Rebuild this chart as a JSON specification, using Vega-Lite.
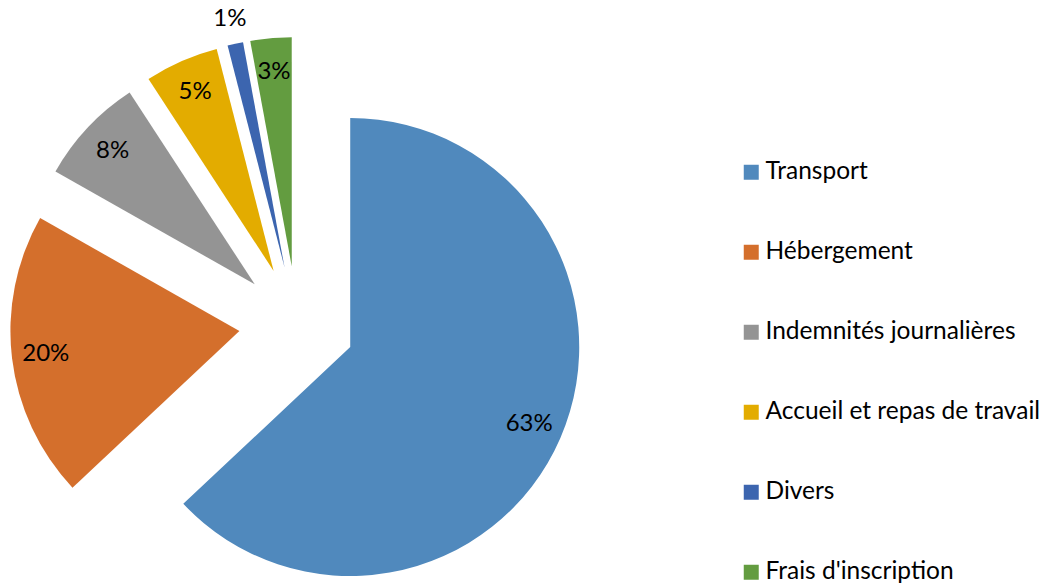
{
  "$schema": "https://vega.github.io/schema/vega-lite/v6.json",
  "width": 1048,
  "height": 584,
  "padding": 0,
  "autosize": "none",
  "background": "white",
  "config": {"view": {"stroke": null}, "font": "Lato"},
  "data": {
    "values": [
      {"cat": "Transport", "idx": 1, "share": 0.630},
      {"cat": "Hébergement", "idx": 2, "share": 0.202},
      {"cat": "Indemnités journalières", "idx": 3, "share": 0.076},
      {"cat": "Accueil et repas de travail", "idx": 4, "share": 0.052},
      {"cat": "Divers", "idx": 5, "share": 0.011},
      {"cat": "Frais d'inscription", "idx": 6, "share": 0.029}
    ]
  },
  "transform": [
    {"joinaggregate": [{"op": "sum", "field": "share", "as": "total"}]},
    {"window": [{"op": "sum", "field": "share", "as": "cum"}], "sort": [{"field": "idx", "order": "ascending"}], "frame": [null, 0]},
    {"calculate": "2*PI*(datum.cum - datum.share/2)/datum.total", "as": "mid"},
    {"calculate": "sin(datum.mid)", "as": "ux"},
    {"calculate": "-cos(datum.mid)", "as": "uy"}
  ],
  "encoding": {
    "theta": {"field": "share", "type": "quantitative", "stack": true},
    "order": {"field": "idx", "type": "quantitative", "sort": "ascending"},
    "x": {"field": "ux", "type": "quantitative", "scale": {"domain": [-1, 1], "range": [239, 355]}, "axis": null},
    "y": {"field": "uy", "type": "quantitative", "scale": {"domain": [-1, 1], "range": [266, 382]}, "axis": null}
  },
  "layer": [
    {
      "mark": {"type": "arc", "radius": 229, "stroke": null},
      "encoding": {
        "color": {
          "field": "cat",
          "type": "nominal",
          "sort": ["Transport", "Hébergement", "Indemnités journalières", "Accueil et repas de travail", "Divers", "Frais d'inscription"],
          "scale": {
            "domain": ["Transport", "Hébergement", "Indemnités journalières", "Accueil et repas de travail", "Divers", "Frais d'inscription"],
            "range": ["#5089BD", "#D46F2C", "#949494", "#E3AC00", "#3C65AF", "#639C40"]
          },
          "legend": {
            "orient": "none",
            "legendX": 739,
            "legendY": 160,
            "title": null,
            "symbolType": "square",
            "symbolSize": 225,
            "symbolStrokeWidth": 0,
            "symbolOpacity": 1,
            "labelFont": "Lato",
            "labelFontSize": 24.5,
            "labelColor": "#000000",
            "labelOffset": 2,
            "labelLimit": 400,
            "rowPadding": 55,
            "padding": 0
          }
        }
      }
    },
    {
      "mark": {
        "type": "text",
        "font": "Lato",
        "fontSize": 24,
        "color": "#000000",
        "align": "center",
        "baseline": "middle",
        "radius": {"expr": "datum.cat === 'Divers' ? 254 : 195"}
      },
      "encoding": {
        "text": {"field": "share", "type": "quantitative", "format": ".0%"}
      }
    }
  ]
}
